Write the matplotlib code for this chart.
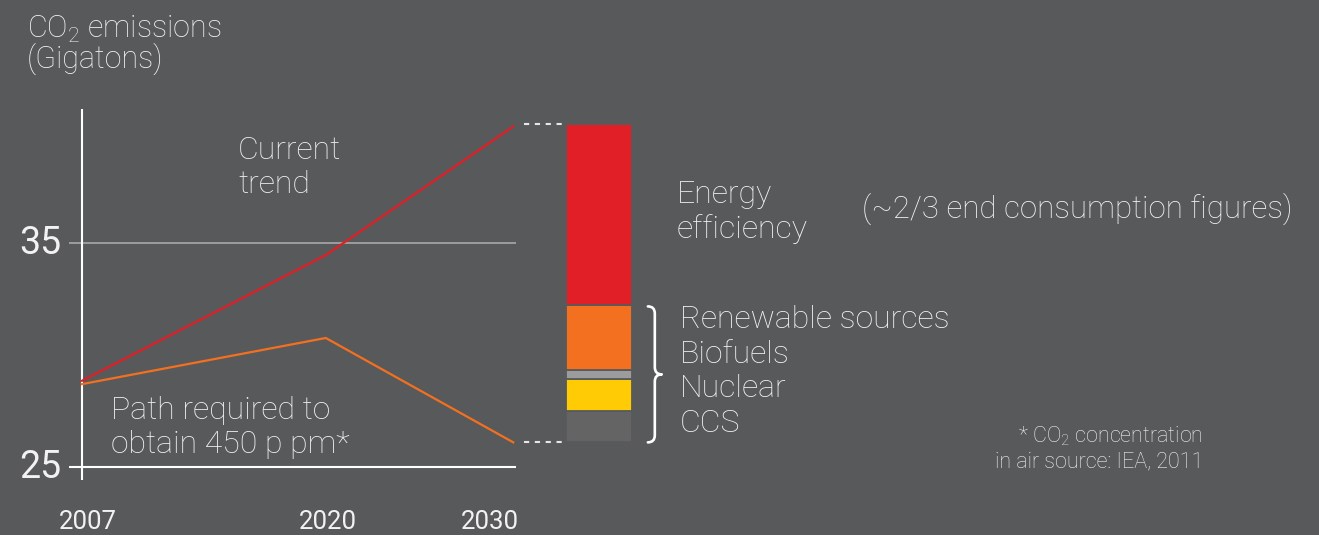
import matplotlib
matplotlib.use('Agg')
import matplotlib.pyplot as plt
from matplotlib.path import Path
from matplotlib.patches import PathPatch

# ---------------- data ----------------
years = [2007, 2020, 2030]
year_labels = ['2007', '2020', '2030']
current_trend = [28.85, 34.46, 40.2]
path_450 = [28.7, 30.76, 26.1]

y_ticks = [25, 35]
y_tick_labels = ['25', '35']

stack_labels = ['CCS', 'Nuclear', 'Biofuels', 'Renewable sources', 'Energy efficiency']
stack_values = [1.39, 1.42, 0.43, 2.88, 8.1]
stack_base = 26.1

# ---------------- style ----------------
BG = '#58595b'
RED = '#e11f26'
ORANGE = '#f37021'
stack_colors = ['#646465', '#ffcb05', '#9c9c9c', ORANGE, RED]
TXT = '#f2f2f2'
FONT = ['Roboto', 'DejaVu Sans']

plt.rcParams['font.family'] = FONT
plt.rcParams['mathtext.fontset'] = 'custom'
plt.rcParams['mathtext.rm'] = 'Roboto:light'

W, H = 1319, 535
fig = plt.figure(figsize=(W / 100, H / 100), dpi=100, facecolor=BG)
ax = fig.add_axes([0, 0, 1, 1])
ax.set_facecolor(BG)
ax.set_axis_off()

# pixel mapping: 2007 -> x=82 px, 18.75 px/yr ; 25 -> y=467 px, 22.4 px/unit
PX_YR, PX_UNIT = 18.75, 22.4
ax.set_xlim(2007 - 82 / PX_YR, 2007 + (W - 82) / PX_YR)
ax.set_ylim(25 - (H - 467) / PX_UNIT, 25 + 467 / PX_UNIT)

def fx(px):
    return px / W

def fy(py):
    return 1 - py / H

# axes lines
x_left = years[0] - 0.72
x_right = years[-1] + 0.15
ax.plot([x_left, x_right], [35, 35], color='#a9a9a9', lw=1.2, solid_capstyle='butt', zorder=1)
ax.plot([x_left, x_right], [25, 25], color='white', lw=1.5, solid_capstyle='butt', zorder=2)
ax.plot([years[0], years[0]], [24.4, 41.0], color='white', lw=1.5, solid_capstyle='butt', zorder=2)

# lines
ax.plot(years, current_trend, color=RED, lw=1.6, zorder=3)
ax.plot(years, path_450, color=ORANGE, lw=1.6, zorder=3)

# stacked bar
bar_left, bar_right = 2032.81, 2036.33
bottom = stack_base
bounds = []
for v, c in zip(stack_values, stack_colors):
    ax.bar((bar_left + bar_right) / 2, v, width=bar_right - bar_left, bottom=bottom,
           color=c, edgecolor=BG, linewidth=1.3, zorder=3)
    bounds.append((bottom, bottom + v))
    bottom += v
top = bottom

# dashed connectors
for yv in (top, stack_base):
    ax.plot([years[-1] + 0.57, bar_left - 0.2], [yv, yv], color='#e6e6e6', lw=1.5,
            linestyle=(0, (2.5, 2.7)), dash_capstyle='butt', zorder=2)

# brace over the lower four segments
y_top = bounds[3][1] - 0.05
y_bot = stack_base
y_mid = (y_top + y_bot) / 2
x0 = bar_right + 0.85
x1 = x0 + 0.37
x2 = x0 + 0.74
r = 0.32
verts = [(x0, y_top), (x1, y_top), (x1, y_top - r),
         (x1, y_mid + r), (x1, y_mid), (x2, y_mid),
         (x1, y_mid), (x1, y_mid - r),
         (x1, y_bot + r), (x1, y_bot), (x0, y_bot)]
codes = [Path.MOVETO, Path.CURVE3, Path.CURVE3,
         Path.LINETO, Path.CURVE3, Path.CURVE3,
         Path.CURVE3, Path.CURVE3,
         Path.LINETO, Path.CURVE3, Path.CURVE3]
ax.add_patch(PathPatch(Path(verts, codes), facecolor='none', edgecolor='white',
                       lw=1.9, capstyle='round', joinstyle='round', zorder=4))

# y tick labels
for yv, lab in zip(y_ticks, y_tick_labels):
    ax.text(years[0] - 1.08, yv, lab, ha='right', va='center', fontsize=27,
            color=TXT, fontweight='normal')

# x tick labels
x_label_px = [88, 328, 490]
for px, lab in zip(x_label_px, year_labels):
    fig.text(fx(px), fy(529), lab, ha='center', va='baseline', fontsize=18.5, color=TXT,
             fontweight='normal')

def label(px, py, s, size=23, ha='left'):
    fig.text(fx(px), fy(py), s, ha=ha, va='baseline', fontsize=size, color=TXT,
             fontweight='light')

label(27, 38, r'CO$_{\mathregular{2}}$ emissions', size=22)
label(27, 68, '(Gigatons)', size=22)
label(238, 159, 'Current')
label(238, 193, 'trend')
label(111, 419, 'Path required to')
label(111, 453, 'obtain 450 p pm*')
label(677, 203, 'Energy')
label(677, 238, 'efficiency')
label(862, 218, '(~2/3 end consumption figures)', size=22.5)
for i, s in enumerate(stack_labels[3::-1]):
    label(680, 328 + i * 34.7, s)
label(1203, 442, r'* CO$_{\mathregular{2}}$ concentration', size=15.5, ha='right')
label(1203, 467, 'in air source: IEA, 2011', size=15.5, ha='right')

fig.savefig('out.png', dpi=100, facecolor=BG)
